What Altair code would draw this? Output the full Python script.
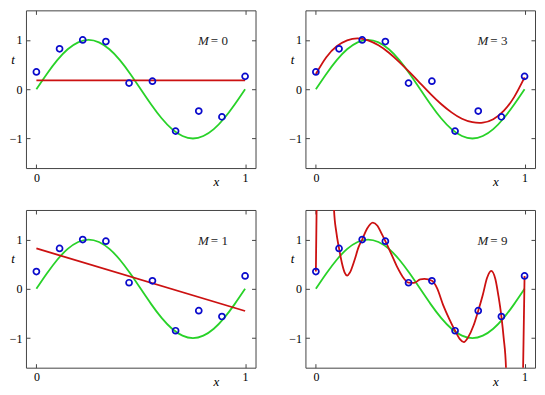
import altair as alt
import pandas as pd

# ---- data ----
pts_x = [0.0, 0.111, 0.222, 0.333, 0.444, 0.556, 0.667, 0.778, 0.889, 1.0]
pts_t = [0.35, 0.82, 1.0, 0.967, 0.124, 0.163, -0.85, -0.444, -0.562, 0.261]

green_x = [0.0, 0.05, 0.1, 0.15, 0.2, 0.25, 0.3, 0.35, 0.4, 0.45, 0.5,
           0.55, 0.6, 0.65, 0.7, 0.75, 0.8, 0.85, 0.9, 0.95, 1.0]
green_t = [0.0, 0.31, 0.59, 0.81, 0.95, 1.0, 0.95, 0.81, 0.59, 0.31, 0.0,
           -0.31, -0.59, -0.81, -0.95, -1.0, -0.95, -0.81, -0.59, -0.31, 0.0]

m0_x = [0.0, 1.0]
m0_t = [0.18, 0.18]

m1_x = [0.0, 1.0]
m1_t = [0.82, -0.45]

m3_x = green_x
m3_t = [0.31, 0.65, 0.87, 0.99, 1.03, 0.99, 0.89, 0.74, 0.55, 0.34, 0.12,
        -0.10, -0.30, -0.47, -0.60, -0.67, -0.68, -0.61, -0.44, -0.16, 0.24]

m9_x = [0.0, 0.004, 0.007, 0.08, 0.087, 0.098, 0.111, 0.125, 0.138, 0.150,
        0.163, 0.185, 0.205, 0.222, 0.245, 0.273, 0.295, 0.315, 0.333, 0.36,
        0.39, 0.42, 0.444, 0.47, 0.50, 0.52, 0.556, 0.58, 0.61, 0.64, 0.667,
        0.69, 0.709, 0.73, 0.755, 0.778, 0.80, 0.82, 0.84, 0.86, 0.875, 0.889,
        0.90, 0.911, 0.916, 0.985, 0.993, 0.996, 1.0]
m9_t = [0.35, 1.8, 2.6, 2.6, 1.6, 1.15, 0.82, 0.52, 0.33, 0.27,
        0.33, 0.58, 0.85, 1.0, 1.22, 1.345, 1.28, 1.12, 0.967, 0.72,
        0.44, 0.22, 0.124, 0.12, 0.19, 0.2, 0.163, 0.02, -0.33, -0.62, -0.85,
        -1.02, -1.08, -0.98, -0.75, -0.444, -0.12, 0.22, 0.365, 0.20, -0.15, -0.562,
        -1.0, -1.6, -2.6, -2.6, -1.6, -0.8, 0.261]

x_ticks = [0, 1]
t_ticks = [-1, 0, 1]

# ---- style ----
W, H = 230, 158
FONT = "'Liberation Serif', 'DejaVu Serif', serif"
GREEN = "#28d228"
RED = "#cc1111"
BLUE = "#0a0acc"
FRAME = "#444444"

xs = alt.Scale(domain=[-0.05, 1.05], nice=False, zero=False)
ys = alt.Scale(domain=[-1.6, 1.6], nice=False, zero=False)

df_pts = pd.DataFrame({"x": pts_x, "t": pts_t})
df_green = pd.DataFrame({"x": green_x, "t": green_t})
one = pd.DataFrame({"k": [0]})


def tick_axis(orient, values, labels):
    kw = dict(orient=orient, values=values, tickSize=4, offset=-4, domain=False,
              grid=False, tickColor=FRAME, tickWidth=1, title=None, labels=labels)
    if labels:
        kw.update(labelFont=FONT, labelFontSize=12, labelColor="black",
                  labelPadding=4, format="d")
    return alt.Axis(**kw)


def panel(fx, ft, mnum, interp):
    green = alt.Chart(df_green).mark_line(
        color=GREEN, strokeWidth=1.8, interpolate="natural").encode(
        x=alt.X("x:Q", scale=xs, axis=tick_axis("bottom", x_ticks, True)),
        y=alt.Y("t:Q", scale=ys, axis=tick_axis("left", t_ticks, True)),
    )
    red = alt.Chart(pd.DataFrame({"x": fx, "t": ft})).mark_line(
        color=RED, strokeWidth=1.8, clip=True, interpolate=interp).encode(
        x=alt.X("x:Q", scale=xs, axis=tick_axis("top", x_ticks, False)),
        y=alt.Y("t:Q", scale=ys, axis=tick_axis("right", t_ticks, False)),
    )
    pts = alt.Chart(df_pts).mark_point(
        shape="circle", filled=False, size=36, strokeWidth=1.7,
        color=BLUE, opacity=1).encode(
        x=alt.X("x:Q", axis=None),
        y=alt.Y("t:Q", axis=None),
    )
    tx = alt.Chart(one).mark_text(
        text="x", font=FONT, fontStyle="italic", fontSize=13,
        align="center", baseline="middle", color="black").encode(
        x=alt.XDatum(0.862, type="quantitative", axis=None),
        y=alt.value(H + 14),
    )
    tt = alt.Chart(one).mark_text(
        text="t", font=FONT, fontStyle="italic", fontSize=13,
        align="center", baseline="middle", color="black").encode(
        x=alt.value(-13),
        y=alt.YDatum(0.6, type="quantitative", axis=None),
    )
    tm = alt.Chart(one).mark_text(
        text="M", font=FONT, fontStyle="italic", fontSize=13,
        align="center", baseline="middle", color="#222").encode(
        x=alt.XDatum(0.80, type="quantitative", axis=None),
        y=alt.YDatum(0.97, type="quantitative", axis=None),
    )
    te = alt.Chart(one).mark_text(
        text="= " + str(mnum), font=FONT, fontSize=13,
        align="left", baseline="middle", color="#222").encode(
        x=alt.XDatum(0.836, type="quantitative", axis=None),
        y=alt.YDatum(0.97, type="quantitative", axis=None),
    )
    return alt.layer(green, red, pts, tx, tt, tm, te).resolve_axis(
        x="independent", y="independent").properties(width=W, height=H)


p0 = panel(m0_x, m0_t, 0, "linear")
p1 = panel(m1_x, m1_t, 1, "linear")
p3 = panel(m3_x, m3_t, 3, "natural")
p9 = panel(m9_x, m9_t, 9, "monotone")

chart = alt.concat(p0, p3, p1, p9, columns=2,
                   spacing={"row": 42, "column": 50}, bounds="flush").properties(
    padding={"left": 0, "top": 1, "right": 1, "bottom": 0},
    background="white",
).configure_view(stroke=FRAME, strokeWidth=1)

chart.save("out.html", embed_options={"renderer": "svg", "actions": False})
